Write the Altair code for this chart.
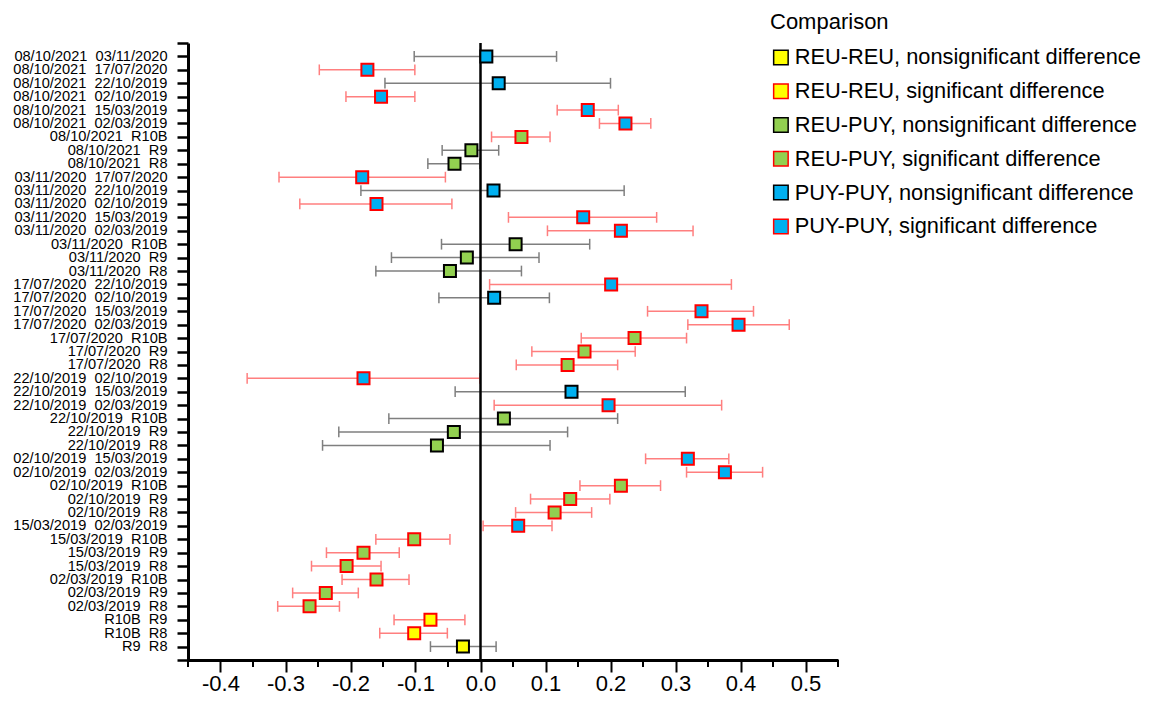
import json
import altair as alt
import pandas as pd

# ---------------- data ----------------
first = [
    "08/10/2021", "08/10/2021", "08/10/2021", "08/10/2021", "08/10/2021",
    "08/10/2021", "08/10/2021", "08/10/2021", "08/10/2021",
    "03/11/2020", "03/11/2020", "03/11/2020", "03/11/2020", "03/11/2020",
    "03/11/2020", "03/11/2020", "03/11/2020",
    "17/07/2020", "17/07/2020", "17/07/2020", "17/07/2020", "17/07/2020",
    "17/07/2020", "17/07/2020",
    "22/10/2019", "22/10/2019", "22/10/2019", "22/10/2019", "22/10/2019",
    "22/10/2019",
    "02/10/2019", "02/10/2019", "02/10/2019", "02/10/2019", "02/10/2019",
    "15/03/2019", "15/03/2019", "15/03/2019", "15/03/2019",
    "02/03/2019", "02/03/2019", "02/03/2019",
    "R10B", "R10B",
    "R9",
]
second = [
    "03/11/2020", "17/07/2020", "22/10/2019", "02/10/2019", "15/03/2019",
    "02/03/2019", "R10B", "R9", "R8",
    "17/07/2020", "22/10/2019", "02/10/2019", "15/03/2019", "02/03/2019",
    "R10B", "R9", "R8",
    "22/10/2019", "02/10/2019", "15/03/2019", "02/03/2019", "R10B",
    "R9", "R8",
    "02/10/2019", "15/03/2019", "02/03/2019", "R10B", "R9", "R8",
    "15/03/2019", "02/03/2019", "R10B", "R9", "R8",
    "02/03/2019", "R10B", "R9", "R8",
    "R10B", "R9", "R8",
    "R9", "R8",
    "R8",
]
comparison = [
    "PUY-PUY", "PUY-PUY", "PUY-PUY", "PUY-PUY", "PUY-PUY", "PUY-PUY",
    "REU-PUY", "REU-PUY", "REU-PUY",
    "PUY-PUY", "PUY-PUY", "PUY-PUY", "PUY-PUY", "PUY-PUY",
    "REU-PUY", "REU-PUY", "REU-PUY",
    "PUY-PUY", "PUY-PUY", "PUY-PUY", "PUY-PUY",
    "REU-PUY", "REU-PUY", "REU-PUY",
    "PUY-PUY", "PUY-PUY", "PUY-PUY",
    "REU-PUY", "REU-PUY", "REU-PUY",
    "PUY-PUY", "PUY-PUY",
    "REU-PUY", "REU-PUY", "REU-PUY",
    "PUY-PUY",
    "REU-PUY", "REU-PUY", "REU-PUY",
    "REU-PUY", "REU-PUY", "REU-PUY",
    "REU-REU", "REU-REU", "REU-REU",
]
significant = [
    0, 1, 0, 1, 1, 1, 1, 0, 0,
    1, 0, 1, 1, 1, 0, 0, 0,
    1, 0, 1, 1, 1, 1, 1,
    1, 0, 1, 0, 0, 0,
    1, 1, 1, 1, 1,
    1, 1, 1, 1,
    1, 1, 1,
    1, 1, 0,
]
estimate = [
    0.009, -0.174, 0.028, -0.153, 0.165, 0.223, 0.063, -0.014, -0.040,
    -0.182, 0.020, -0.160, 0.158, 0.216, 0.054, -0.021, -0.047,
    0.201, 0.021, 0.340, 0.397, 0.237, 0.160, 0.134,
    -0.180, 0.140, 0.197, 0.036, -0.041, -0.067,
    0.319, 0.376, 0.216, 0.138, 0.114,
    0.058, -0.102, -0.180, -0.206,
    -0.160, -0.238, -0.263,
    -0.077, -0.102,
    -0.027,
]
lower = [
    -0.102, -0.248, -0.147, -0.207, 0.118, 0.183, 0.017, -0.059, -0.081,
    -0.310, -0.184, -0.278, 0.043, 0.103, -0.060, -0.137, -0.161,
    0.014, -0.064, 0.257, 0.319, 0.155, 0.079, 0.055,
    -0.359, -0.039, 0.021, -0.141, -0.218, -0.243,
    0.254, 0.317, 0.153, 0.077, 0.054,
    0.004, -0.161, -0.237, -0.260,
    -0.213, -0.289, -0.312,
    -0.133, -0.155,
    -0.077,
]
upper = [
    0.117, -0.101, 0.200, -0.101, 0.212, 0.262, 0.107, 0.028, -0.001,
    -0.054, 0.221, -0.044, 0.271, 0.327, 0.168, 0.090, 0.063,
    0.386, 0.106, 0.420, 0.475, 0.317, 0.238, 0.211,
    -0.001, 0.315, 0.371, 0.211, 0.134, 0.107,
    0.382, 0.434, 0.277, 0.199, 0.171,
    0.110, -0.047, -0.125, -0.153,
    -0.110, -0.188, -0.217,
    -0.024, -0.051,
    0.024,
]
major_ticks = [-0.4, -0.3, -0.2, -0.1, 0.0, 0.1, 0.2, 0.3, 0.4, 0.5]
minor_ticks = [-0.45, -0.35, -0.25, -0.15, -0.05, 0.05, 0.15, 0.25, 0.35, 0.45, 0.55]

categories = [
    "REU-REU, nonsignificant difference",
    "REU-REU, significant difference",
    "REU-PUY, nonsignificant difference",
    "REU-PUY, significant difference",
    "PUY-PUY, nonsignificant difference",
    "PUY-PUY, significant difference",
]
fill_colors = ["#FFFF00", "#FFFF00", "#92D050", "#92D050", "#00B0F0", "#00B0F0"]
stroke_colors = ["#000000", "#FF0000", "#000000", "#FF0000", "#000000", "#FF0000"]

# ---------------- build table ----------------
labels = [f"{a} \u00a0{b}" for a, b in zip(first, second)]
n = len(labels)
df = pd.DataFrame({
    "row": list(range(1, n + 1)),
    "label": labels,
    "est": estimate,
    "lo": lower,
    "hi": upper,
    "sig": ["yes" if s else "no" for s in significant],
    "cat": [f"{c}, {'significant' if s else 'nonsignificant'} difference"
            for c, s in zip(comparison, significant)],
})

FONT = "Liberation Sans"
W, H = 650, 617

xscale = alt.Scale(domain=[-0.45, 0.55], nice=False, zero=False)
yscale = alt.Scale(domain=[0, n + 1], reverse=True, nice=False, zero=False)
sigscale = alt.Scale(domain=["no", "yes"], range=["#7F7F7F", "#FF7F7F"])

label_js = json.dumps(labels, ensure_ascii=False)
yaxis = alt.Axis(
    values=list(range(0, n + 2)),
    labelExpr=f"datum.value >= 1 && datum.value <= {n} ? {label_js}[datum.value - 1] : ''",
    labelFont=FONT, labelFontSize=14.6, labelColor="black",
    tickSize=11, tickWidth=2.5, tickColor="black",
    domainColor="black", domainWidth=3, grid=False, title=None,
    labelPadding=10, labelOverlap=False, labelFlush=False,
)
xaxis = alt.Axis(
    values=major_ticks,
    format=".1f",
    labelExpr="replace(datum.label, '\u2212', '-')",
    labelFont=FONT, labelFontSize=22, labelColor="black",
    tickSize=12, tickWidth=2, tickColor="black",
    domainColor="black", domainWidth=3, grid=False, title=None,
    labelPadding=1.5, labelOverlap=False, labelFlush=False,
)

base = alt.Chart(df)

whiskers = base.mark_rule(strokeWidth=1.5).encode(
    x=alt.X("lo:Q", scale=xscale, axis=xaxis),
    x2="hi:Q",
    y=alt.Y("row:Q", scale=yscale, axis=yaxis),
    color=alt.Color("sig:N", scale=sigscale, legend=None),
)

caps = base.transform_fold(["lo", "hi"], as_=["end", "val"]).transform_calculate(
    ya="datum.row - 0.4", yb="datum.row + 0.4"
).mark_rule(strokeWidth=1.5).encode(
    x=alt.X("val:Q", scale=xscale, axis=xaxis),
    y=alt.Y("ya:Q", scale=yscale, axis=yaxis),
    y2="yb:Q",
    color=alt.Color("sig:N", scale=sigscale, legend=None),
)

zero = alt.Chart(pd.DataFrame({"x": [0.0]})).mark_rule(
    color="black", strokeWidth=2.5
).encode(x=alt.X("x:Q", scale=xscale, axis=xaxis))

legend_kw = dict(
    title="Comparison", orient="none", legendX=582, legendY=-31,
    symbolType="square", symbolSize=210, symbolStrokeWidth=1.5,
    labelFont=FONT, labelFontSize=21.8, labelColor="black", labelLimit=600,
    titleFont=FONT, titleFontSize=22, titleFontWeight="normal", titleColor="black",
    rowPadding=10.8, titlePadding=12.5, labelOffset=3, padding=0,
)

squares = base.mark_square(size=144, strokeWidth=2, opacity=1).encode(
    x=alt.X("est:Q", scale=xscale, axis=xaxis),
    y=alt.Y("row:Q", scale=yscale, axis=yaxis),
    fill=alt.Fill("cat:N", scale=alt.Scale(domain=categories, range=fill_colors),
                  legend=alt.Legend(**legend_kw)),
    stroke=alt.Stroke("cat:N", scale=alt.Scale(domain=categories, range=stroke_colors),
                      legend=alt.Legend(**legend_kw)),
)

minor = alt.Chart(pd.DataFrame({"m": minor_ticks})).mark_rule(
    color="black", strokeWidth=2
).encode(x=alt.X("m:Q", scale=xscale, axis=xaxis), y=alt.value(H), y2=alt.value(H + 7))

chart = alt.layer(whiskers, caps, zero, squares, minor).properties(
    width=W, height=H,
    autosize=alt.AutoSizeParams(type="none"),
    padding={"left": 180, "top": 35, "right": 305, "bottom": 36},
).configure(font=FONT).configure_view(strokeWidth=0)

chart.save("out.html", embed_options={"renderer": "svg", "actions": False})
